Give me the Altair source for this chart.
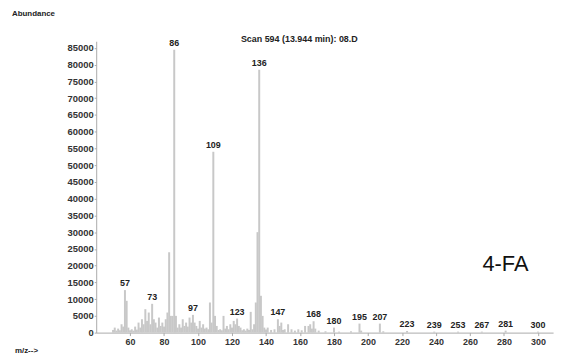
import altair as alt
import pandas as pd

# m/z values and abundances
mz = [50, 51, 52, 53, 54, 55, 56, 57, 58, 59, 60, 61, 62, 63, 64, 65, 66, 67, 68, 69, 70, 71, 72, 73, 74, 75, 76, 77, 78,
      79, 80, 81, 82, 83, 84, 85, 86, 87, 88,
      89, 90, 91, 92, 93, 94, 95, 96, 97, 98, 99, 100, 101, 102, 103, 104, 105, 106, 107, 108, 109, 110, 111, 112, 113,
      114, 115, 116, 117, 118, 119, 120, 121, 122, 123, 124, 125, 126, 127, 128, 129, 130, 131, 132, 133, 134, 135,
      136, 137, 138, 139, 140, 141, 143, 145, 147, 148, 149, 150, 151, 153, 155, 157, 159, 161, 163, 165, 166, 167,
      168, 169, 171, 175, 180, 183, 190, 195, 196, 207, 209, 223, 239, 253, 267, 281, 300]
abund = [800, 1500, 600, 1200, 700, 2500, 1800, 12700, 9500, 1500, 700, 1000, 600, 1800, 900, 3000, 1500, 4000, 2500,
         7000, 3500, 6000, 2500, 8600, 4000, 3000, 1500, 4500, 2000,
         3000, 1800, 4000, 6000, 24000, 5000, 5000, 84500, 5000, 1500,
         2500, 1500, 4000, 2000, 3000, 1800, 4500, 3000, 5300, 3000, 2000, 1200, 3500, 1500, 2500, 1200, 1500, 1000,
         9000, 3000, 54000, 5000, 2000, 800, 1000,
         700, 5000, 1200, 2000, 1000, 2500, 1500, 3500, 2500, 4200, 2000, 1500, 700, 1000, 600, 1200, 800, 6200, 1000,
         2500, 9000, 30000,
         78500, 11000, 5000, 1500, 900, 1500, 800, 1000, 4000, 2000, 3000, 800, 1000, 2500, 1000, 600, 1000, 700, 2000,
         2000, 2500, 1200,
         3400, 1200, 600, 400, 1500, 300, 400, 2700, 600, 2700, 400, 500, 300, 300, 300, 600, 300]
labelled = [57, 73, 86, 97, 109, 123, 136, 147, 168, 180, 195, 207, 223, 239, 253, 267, 281, 300]

y_ticks = list(range(0, 85001, 5000))
x_ticks = list(range(60, 301, 20))

df = pd.DataFrame({"mz": mz, "ab": abund})
lab = df[df["mz"].isin(labelled)].copy()

W, H = 461, 294
xs = alt.Scale(domain=[43, 306], nice=False, zero=False)
ys = alt.Scale(domain=[0, 87000], nice=False)

x_axis = alt.Axis(values=x_ticks, title=None, grid=False, format="d", labelOverlap=False,
                  labelFont="Liberation Sans", labelFontWeight="bold", labelFontSize=9, labelColor="#333",
                  domainColor="#aaa", tickColor="#aaa", tickSize=3, labelPadding=2)
y_axis = alt.Axis(values=y_ticks, title=None, grid=False, format="d", labelOverlap=False,
                  labelFont="Liberation Sans", labelFontWeight="bold", labelFontSize=9.5, labelColor="#333",
                  domainColor="#aaa", tickColor="#aaa", tickSize=2, labelPadding=1)

bars = alt.Chart(df).mark_bar(size=2, color="#c8c8c8").encode(
    x=alt.X("mz:Q", scale=xs, axis=x_axis),
    y=alt.Y("ab:Q", scale=ys, axis=y_axis),
)

labels = alt.Chart(lab).mark_text(font="Liberation Sans", fontWeight="bold", fontSize=9,
                                  color="#222", baseline="bottom", dy=-2).encode(
    x=alt.X("mz:Q", scale=xs, axis=x_axis), y=alt.Y("ab:Q", scale=ys, axis=y_axis), text="mz:Q")

def txt(s, x, y, size, weight="bold", align="left", color="#222"):
    return alt.Chart(pd.DataFrame({"t": [s]})).mark_text(
        font="Liberation Sans", fontSize=size, fontWeight=weight, align=align,
        baseline="middle", color=color).encode(x=alt.value(x), y=alt.value(y), text="t:N")

abund_t = txt("Abundance", -85, -27, 8)
scan_t = txt("Scan 594 (13.944 min): 08.D", 146, -2, 9)
fa_t = txt("4-FA", 413, 225, 22, weight="normal", align="center", color="#111")
mz_t = txt("m/z-->", -82, 313, 8)

chart = alt.layer(bars, labels, abund_t, scan_t, fa_t, mz_t).properties(
    width=W, height=H,
    autosize=alt.AutoSizeParams(type="none"),
    padding={"left": 89, "top": 32, "right": 8, "bottom": 20},
).configure_view(stroke=None)

chart.save("out.html", embed_options={"renderer": "svg", "actions": False})
